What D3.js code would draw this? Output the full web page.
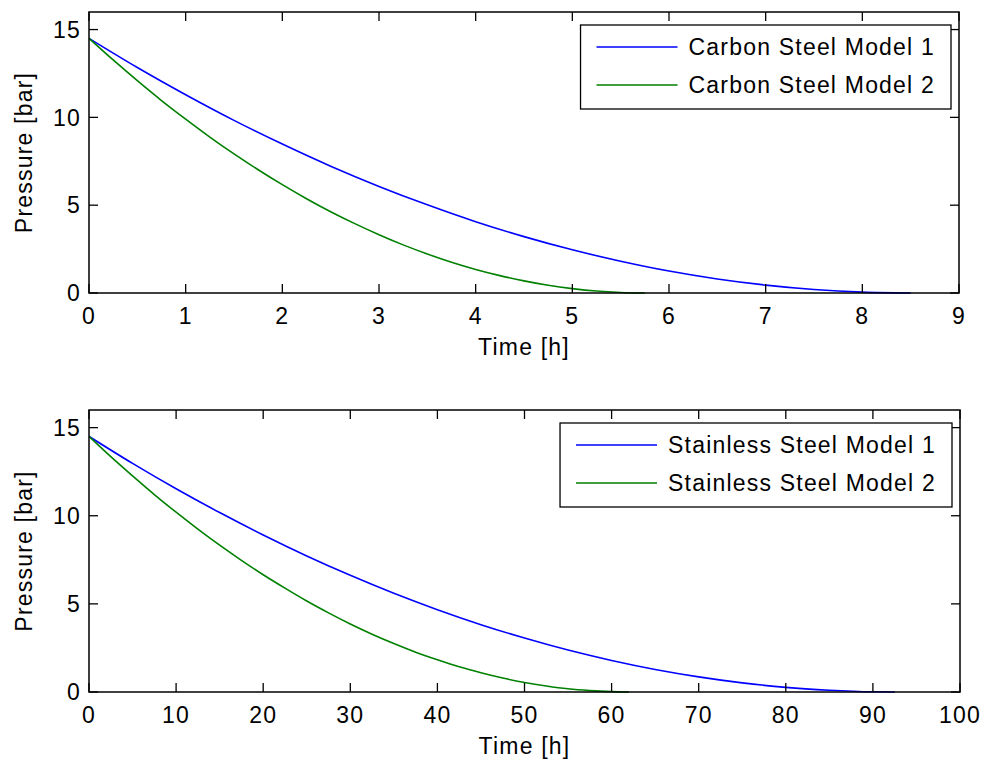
<!DOCTYPE html>
<html>
<head>
<meta charset="utf-8">
<script src="https://cdn.jsdelivr.net/npm/d3@7"></script>
<style>
  html, body { margin: 0; padding: 0; background: #fff; }
  svg text { font-family: "Liberation Sans", Arial, sans-serif; font-size: 23px; letter-spacing: 1.2px; fill: #000; }
</style>
</head>
<body>
<div id="chart"></div>
<script>
// top panel: carbon steel, time in hours
const carbonTime1 = [0, 0.5, 1, 1.5, 2, 2.5, 3, 3.5, 4, 4.5, 5, 5.5, 6, 6.5, 7, 7.5, 8, 8.5];
const carbonModel1 = [14.5, 12.84, 11.29, 9.83, 8.48, 7.22, 6.07, 5.02, 4.06, 3.21, 2.46, 1.81, 1.25, 0.80, 0.45, 0.20, 0.05, 0];
const carbonTime2 = [0, 0.25, 0.5, 0.75, 1, 1.25, 1.5, 1.75, 2, 2.25, 2.5, 2.75, 3, 3.25, 3.5, 3.75, 4, 4.25, 4.5, 4.75, 5, 5.25, 5.5, 5.75];
const carbonModel2 = [14.5, 13.27, 12.09, 10.96, 9.90, 8.88, 7.92, 7.02, 6.17, 5.37, 4.63, 3.95, 3.32, 2.74, 2.22, 1.75, 1.34, 0.99, 0.69, 0.44, 0.25, 0.11, 0.03, 0];

// bottom panel: stainless steel
const stainlessTime1 = [0, 5, 10, 15, 20, 25, 30, 35, 40, 45, 50, 55, 60, 65, 70, 75, 80, 85, 90, 92.5];
const stainlessModel1 = [14.5, 12.97, 11.53, 10.18, 8.91, 7.72, 6.62, 5.60, 4.67, 3.82, 3.06, 2.38, 1.79, 1.28, 0.86, 0.52, 0.26, 0.10, 0.01, 0];
const stainlessTime2 = [0, 2.5, 5, 7.5, 10, 12.5, 15, 17.5, 20, 22.5, 25, 27.5, 30, 32.5, 35, 37.5, 40, 42.5, 45, 47.5, 50, 52.5, 55, 57.5, 60, 62];
const stainlessModel2 = [14.5, 13.35, 12.26, 11.20, 10.20, 9.24, 8.33, 7.47, 6.65, 5.89, 5.16, 4.49, 3.86, 3.28, 2.75, 2.26, 1.83, 1.43, 1.09, 0.79, 0.54, 0.34, 0.18, 0.08, 0.02, 0];

const pressureTicks = [0, 5, 10, 15];
const carbonTicks = [0, 1, 2, 3, 4, 5, 6, 7, 8, 9];
const stainlessTicks = [0, 10, 20, 30, 40, 50, 60, 70, 80, 90, 100];

const carbonNames = ['Carbon Steel Model 1', 'Carbon Steel Model 2'];
const stainlessNames = ['Stainless Steel Model 1', 'Stainless Steel Model 2'];
const lineColors = ['#0000ff', '#008000'];

const width = 982, height = 764;
const svg = d3.select('#chart').append('svg')
	.attr('width', width)
	.attr('height', height)
	.style('display', 'block');

function drawPanel(opts) {
	const { left, right, top, bottom, xMax, xTicks, series, names } = opts;
	const x = d3.scaleLinear().domain([0, xMax]).range([left, right]);
	const y = d3.scaleLinear().domain([0, 16]).range([bottom, top]);
	const g = svg.append('g');
	const tickLen = 9;

	const clipId = 'clip' + top;
	svg.append('clipPath').attr('id', clipId)
		.append('rect').attr('x', left).attr('y', top - 2)
		.attr('width', right - left).attr('height', bottom - top + 4);

	// curves
	const line = d3.line()
		.x(d => x(d[0]))
		.y(d => y(d[1]))
		.curve(d3.curveMonotoneX);
	series.forEach((s, i) => {
		g.append('path')
			.datum(d3.zip(s.t, s.p))
			.attr('d', line)
			.attr('clip-path', `url(#${clipId})`)
			.attr('fill', 'none')
			.attr('stroke', lineColors[i])
			.attr('stroke-width', 1.6);
	});

	// inward ticks on all four sides
	const ticks = g.append('g').attr('stroke', '#000').attr('stroke-width', 1.3);
	xTicks.forEach(v => {
		ticks.append('line').attr('x1', x(v)).attr('x2', x(v)).attr('y1', bottom).attr('y2', bottom - tickLen);
		ticks.append('line').attr('x1', x(v)).attr('x2', x(v)).attr('y1', top).attr('y2', top + tickLen);
	});
	pressureTicks.forEach(v => {
		ticks.append('line').attr('x1', left).attr('x2', left + tickLen).attr('y1', y(v)).attr('y2', y(v));
		ticks.append('line').attr('x1', right).attr('x2', right - tickLen).attr('y1', y(v)).attr('y2', y(v));
	});

	// box
	g.append('rect')
		.attr('x', left).attr('y', top)
		.attr('width', right - left).attr('height', bottom - top)
		.attr('fill', 'none').attr('stroke', '#000').attr('stroke-width', 1.5);

	// tick labels
	g.selectAll('.xl').data(xTicks).enter().append('text')
		.attr('x', d => x(d)).attr('y', bottom + 31)
		.attr('text-anchor', 'middle')
		.text(d => d);
	g.selectAll('.yl').data(pressureTicks).enter().append('text')
		.attr('x', left - 8).attr('y', d => y(d))
		.attr('dy', '0.36em')
		.attr('text-anchor', 'end')
		.text(d => d);

	// axis labels
	g.append('text')
		.attr('x', (left + right) / 2).attr('y', bottom + 62)
		.attr('text-anchor', 'middle')
		.text('Time [h]');
	g.append('text')
		.attr('transform', `translate(32,${(top + bottom) / 2}) rotate(-90)`)
		.attr('text-anchor', 'middle')
		.text('Pressure [bar]');

	// legend
	const leg = g.append('g');
	const labels = names.map((n, i) => leg.append('text')
		.attr('y', top + 35 + i * 38)
		.attr('dy', '0.36em')
		.text(n));
	const textW = d3.max(labels, l => l.node().getComputedTextLength());
	const boxRight = right - 8;
	const textX = boxRight - 16 - textW;
	const lineX2 = textX - 11;
	const lineX1 = lineX2 - 81;
	const boxLeft = lineX1 - 16;
	leg.insert('rect', 'text')
		.attr('x', boxLeft).attr('y', top + 13)
		.attr('width', boxRight - boxLeft).attr('height', 84)
		.attr('fill', '#fff').attr('stroke', '#000').attr('stroke-width', 1.3);
	labels.forEach((l, i) => {
		l.attr('x', textX);
		leg.append('line')
			.attr('x1', lineX1).attr('x2', lineX2)
			.attr('y1', top + 35 + i * 38).attr('y2', top + 35 + i * 38)
			.attr('stroke', lineColors[i]).attr('stroke-width', 1.6);
	});
}

drawPanel({
	left: 89, right: 959, top: 12, bottom: 293,
	xMax: 9, xTicks: carbonTicks,
	series: [{ t: carbonTime1, p: carbonModel1 }, { t: carbonTime2, p: carbonModel2 }],
	names: carbonNames
});

drawPanel({
	left: 89, right: 960, top: 410, bottom: 692,
	xMax: 100, xTicks: stainlessTicks,
	series: [{ t: stainlessTime1, p: stainlessModel1 }, { t: stainlessTime2, p: stainlessModel2 }],
	names: stainlessNames
});
</script>
</body>
</html>
